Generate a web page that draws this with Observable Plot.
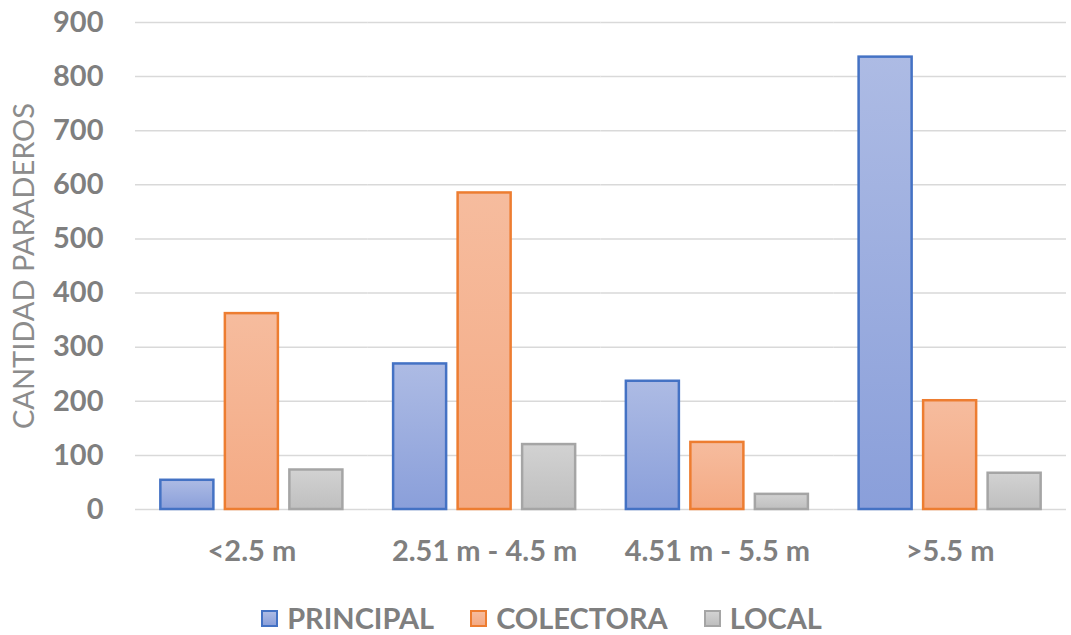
<!DOCTYPE html>
<html><head><meta charset="utf-8">
<script src="https://cdn.jsdelivr.net/npm/d3@7"></script>
<script src="https://cdn.jsdelivr.net/npm/@observablehq/plot@0.6"></script>
<style>
body{margin:0;background:#fff;font-family:Lato,sans-serif;}
#chart{width:1071px;}
g[aria-label="y-axis label"], g[aria-label="y-axis label"] text, text.label{font-weight:normal;fill:#8c8c8c;}
.legend{display:flex;justify-content:center;align-items:center;font:bold 29px Lato,sans-serif;color:#7f7f7f;height:34px;line-height:34px;margin-top:16px;padding-left:12px;}
.legend .item{display:flex;align-items:center;margin:0 18px;}
.legend .sw{width:17px;height:17px;box-sizing:border-box;border-width:2.5px;border-style:solid;margin-right:9px;}
</style></head><body><div id="chart"></div><script>
const categories = ["<2.5 m", "2.51 m - 4.5 m", "4.51 m - 5.5 m", ">5.5 m"];
const series = ["PRINCIPAL", "COLECTORA", "LOCAL"];
const principal = [54, 269, 237, 836];
const colectora = [362, 585, 124, 201];
const local = [73, 120, 28, 67];
const yTicks = [0, 100, 200, 300, 400, 500, 600, 700, 800, 900];

const seriesStroke = ["#4472c4", "#ed7d31", "#a5a5a5"];
const seriesGrad = [["#adbbe4", "#8a9fda"], ["#f6bc9e", "#f4aa84"], ["#d2d2d2", "#bfbfbf"]];

const values = [principal, colectora, local];
const table = categories.flatMap((c, i) => series.map((s, j) => ({category: c, series: s, value: values[j][i]})));

const plot = Plot.plot({
  width: 1071, height: 585,
  marginLeft: 135, marginRight: 5, marginTop: 22, marginBottom: 76,
  style: {fontFamily: "Lato, sans-serif", fontSize: "29px", fontWeight: "bold", color: "#7f7f7f", background: "white", overflow: "visible"},
  fx: {domain: categories, padding: 0, round: false, label: null, axis: "bottom", tickSize: 0, tickPadding: 31},
  x: {domain: series, axis: null, round: false, paddingInner: 0.178, paddingOuter: 0.393},
  y: {domain: [0, 900], ticks: yTicks, tickSize: 0, tickPadding: 32, label: "CANTIDAD PARADEROS", labelAnchor: "center", labelOffset: 122, labelArrow: false},
  color: {domain: series, range: series.map((s, i) => `url(#grad${i})`)},
  marks: [
    Plot.ruleY(yTicks, {stroke: "#d9d9d9", strokeWidth: 1.5}),
    ...series.map((s, i) => Plot.barY(table.filter(d => d.series === s), {
      fx: "category", x: "series", y: "value", fill: "series",
      stroke: seriesStroke[i], strokeWidth: 2.5
    }))
  ]
});
const svg = plot.tagName.toLowerCase() === "svg" ? plot : plot.querySelector("svg");
const defs = d3.select(svg).insert("defs", ":first-child");
seriesGrad.forEach((g, i) => {
  const lg = defs.append("linearGradient").attr("id", `grad${i}`).attr("x1", 0).attr("y1", 0).attr("x2", 0).attr("y2", 1);
  lg.append("stop").attr("offset", "0%").attr("stop-color", g[0]);
  lg.append("stop").attr("offset", "100%").attr("stop-color", g[1]);
});
document.getElementById("chart").append(plot);

const legend = d3.select("#chart").append("div").attr("class", "legend");
series.forEach((s, i) => {
  const it = legend.append("div").attr("class", "item");
  it.append("div").attr("class", "sw")
    .style("border-color", seriesStroke[i])
    .style("background", `linear-gradient(${seriesGrad[i][0]}, ${seriesGrad[i][1]})`);
  it.append("span").text(s);
});
</script></body></html>
